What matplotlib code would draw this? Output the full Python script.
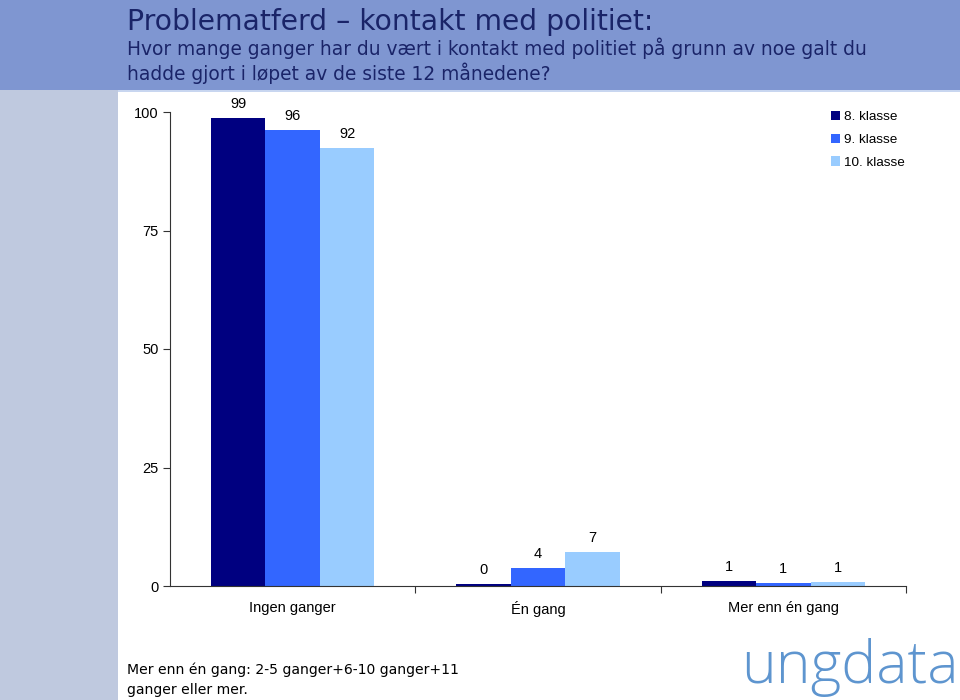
import matplotlib
matplotlib.use("Agg")
import matplotlib.pyplot as plt
import numpy as np

categories = ["Ingen ganger", "Én gang", "Mer enn én gang"]
series_names = ["8. klasse", "9. klasse", "10. klasse"]
klasse8 = [98.7, 0.4, 1.0]
klasse9 = [96.2, 3.8, 0.6]
klasse10 = [92.4, 7.2, 0.8]
yticks = [0, 25, 50, 75, 100]
colors = ["#000080", "#3366FF", "#99CCFF"]

W, H = 960, 700
fig = plt.figure(figsize=(W / 100, H / 100), dpi=100)
fig.patch.set_facecolor("white")

# background panels
fig.add_artist(plt.Rectangle((0, 0), 118 / W, 1 - 90 / H, transform=fig.transFigure,
                             facecolor="#BFC9DF", edgecolor="none", zorder=0))
fig.add_artist(plt.Rectangle((0, 1 - 90 / H), 1, 90 / H, transform=fig.transFigure,
                             facecolor="#7F96D1", edgecolor="none", zorder=0))
fig.add_artist(plt.Rectangle((118 / W, 1 - 92 / H), 1, 2 / H, transform=fig.transFigure,
                             facecolor="#C8D6F0", edgecolor="none", zorder=0))

title_color = "#1A2468"
fig.text(127 / W, 1 - 30 / H, "Problematferd \u2013 kontakt med politiet:", fontsize=20.3,
         color=title_color, va="baseline", ha="left", family="DejaVu Sans")
fig.text(127 / W, 1 - 55 / H,
         "Hvor mange ganger har du vært i kontakt med politiet på grunn av noe galt du",
         fontsize=13.45, color=title_color, va="baseline", ha="left", family="DejaVu Sans")
fig.text(127 / W, 1 - 80 / H, "hadde gjort i løpet av de siste 12 månedene?",
         fontsize=13.45, color=title_color, va="baseline", ha="left", family="DejaVu Sans")

# axes
left, right = 170, 906
bottom, top = 586, 112
ax = fig.add_axes([left / W, 1 - bottom / H, (right - left) / W, (bottom - top) / H])
ax.set_facecolor("none")

x = np.arange(len(categories))
bw = 0.222
for i, (vals, name, c) in enumerate(zip([klasse8, klasse9, klasse10], series_names, colors)):
    pos = x + (i - 1) * bw
    ax.bar(pos, vals, width=bw, color=c, label=name, zorder=2)
    for p, v in zip(pos, vals):
        ax.text(p, v + 1.5, f"{int(round(v))}", ha="center", va="bottom",
                fontsize=10.5, family="Liberation Sans", color="black")

ax.set_xlim(-0.5, 2.5)
ax.set_ylim(0, 100)
ax.set_yticks(yticks)
ax.set_yticklabels([str(t) for t in yticks], fontsize=10.5, family="Liberation Sans")
ax.set_xticks([0.5, 1.5, 2.5])
ax.set_xticklabels([])
ax.set_xticks(x, minor=True)
ax.set_xticklabels(categories, minor=True, fontsize=10.5, family="Liberation Sans")
ax.tick_params(axis="x", which="minor", length=0, pad=11)
ax.tick_params(axis="x", which="major", length=5, direction="out", color="#333333")
ax.tick_params(axis="y", length=5, direction="out", color="#333333", pad=3)
for s in ["top", "right"]:
    ax.spines[s].set_visible(False)
ax.spines["left"].set_color("#333333")
ax.spines["bottom"].set_color("#333333")

ax.legend(loc="upper left", bbox_to_anchor=((831 - left) / (right - left), (bottom - 111) / (bottom - top)),
          frameon=False, prop={"family": "Liberation Sans", "size": 9.7},
          handlelength=0.7, handleheight=0.7, handletextpad=0.3, labelspacing=0.75,
          borderaxespad=0, borderpad=0)

fig.text(127 / W, 1 - 670 / H, "Mer enn én gang: 2-5 ganger+6-10 ganger+11",
         fontsize=10.1, color="black", va="center", ha="left", family="DejaVu Sans")
fig.text(127 / W, 1 - 690 / H, "ganger eller mer.",
         fontsize=10.1, color="black", va="center", ha="left", family="DejaVu Sans")

fig.text(959 / W, 1 - 683 / H, "ungdata", fontsize=42.5, color="#5E95CF", va="baseline",
         ha="right", family="Open Sans", fontweight="light")

fig.savefig("out.png", dpi=100, facecolor=fig.get_facecolor())
